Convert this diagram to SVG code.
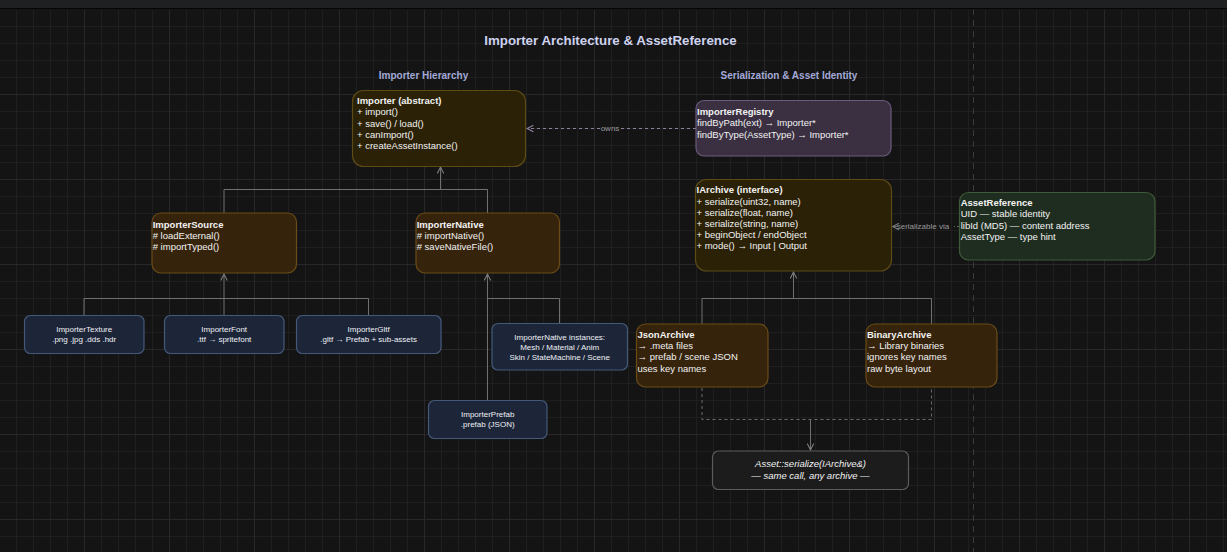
<svg xmlns="http://www.w3.org/2000/svg" width="1227" height="552" viewBox="0 0 1227 552">
<style>
.t{font-family:"Liberation Sans",Arial,sans-serif;fill:#f2f2f2;font-size:9.5px}
.b{font-weight:bold}
.s{font-family:"Liberation Sans",Arial,sans-serif;fill:#eef0f6;font-size:8px;text-anchor:middle}
.lbl{font-family:"Liberation Sans",Arial,sans-serif;fill:#9a9a9a;font-size:8px}
.olive{fill:#2a2107;stroke:#5c4b14;stroke-width:1.2}
.brown{fill:#35230c;stroke:#6b4c17;stroke-width:1.2}
.navy{fill:#1d2638;stroke:#44597a;stroke-width:1.2}
.purp{fill:#3a3042;stroke:#6c5b7a;stroke-width:1.2}
.green{fill:#1f2d20;stroke:#3f5a39;stroke-width:1.2}
.gray{fill:#1c1c1c;stroke:#5c5c5c;stroke-width:1.2}
.c{fill:none;stroke:#707070;stroke-width:1}
.d{fill:none;stroke:#6a6a6a;stroke-width:1;stroke-dasharray:3 3}
</style>
<defs>
<pattern id="minor" width="17" height="17" patternUnits="userSpaceOnUse" x="-1" y="9">
<path d="M0 0.5H17M0.5 0V17" fill="none" stroke="#1f1f1f" stroke-width="1"/>
</pattern>
<pattern id="major" width="85" height="85" patternUnits="userSpaceOnUse" x="-1" y="9">
<path d="M0 0.5H85M0.5 0V85" fill="none" stroke="#282828" stroke-width="1"/>
</pattern>
<marker id="ah" viewBox="0 0 10 10" refX="9" refY="5" markerWidth="8" markerHeight="8" orient="auto" markerUnits="userSpaceOnUse">
<path d="M1 1L9 5L1 9" fill="none" stroke="#808080" stroke-width="1.3"/>
</marker>
<marker id="ahp" viewBox="0 0 10 10" refX="9" refY="5" markerWidth="8" markerHeight="8" orient="auto" markerUnits="userSpaceOnUse">
<path d="M1 1L9 5L1 9" fill="none" stroke="#9a8aaa" stroke-width="1.3"/>
</marker>
</defs>
<rect width="1227" height="552" fill="#141414"/>
<rect y="9" width="1227" height="543" fill="url(#minor)"/>
<rect y="9" width="1227" height="543" fill="url(#major)"/>
<line x1="973.5" y1="9" x2="973.5" y2="552" stroke="#3a3a3a" stroke-dasharray="6 5"/>
<rect width="1227" height="8" fill="#1f2022"/>
<rect y="8" width="1227" height="1.5" fill="#050505"/>

<text x="610.5" y="45" text-anchor="middle" font-family="Liberation Sans,Arial,sans-serif" font-weight="bold" font-size="13.3" fill="#cdd2ee">Importer Architecture &amp; AssetReference</text>
<text x="423.5" y="79.2" text-anchor="middle" font-family="Liberation Sans,Arial,sans-serif" font-weight="bold" font-size="10" fill="#a3aad8">Importer Hierarchy</text>
<text x="789" y="79.2" text-anchor="middle" font-family="Liberation Sans,Arial,sans-serif" font-weight="bold" font-size="10" fill="#a3aad8">Serialization &amp; Asset Identity</text>

<g id="connectors">
<path class="c" d="M224 213V189.5H487.5V213M440.5 189.5V167" marker-end="url(#ah)"/>
<path class="c" d="M84 316V298.5H368.5V316M224 316V274" marker-end="url(#ah)"/>
<path class="c" d="M559.5 323V298.5H487.5"/>
<path class="c" d="M487.5 400V274" marker-end="url(#ah)"/>
<path class="c" d="M702 324V298.5H931.5V324M793.5 298.5V272" marker-end="url(#ah)"/>
<path class="d" d="M702 388V419.5H931.5V388"/>
<path class="c" d="M810.5 419.5V450" marker-end="url(#ah)"/>
<path d="M696 128.5H620M600 128.5H527" fill="none" stroke="#8e7f9e" stroke-width="1" stroke-dasharray="3 3" marker-end="url(#ahp)"/>
<text class="lbl" x="610" y="131.2" text-anchor="middle" fill="#8c8c9a">owns</text>
<path d="M959 226.5H954" fill="none" stroke="#6a6a6a" stroke-dasharray="2 2"/>
<path d="M897 226.5H892.5" fill="none" stroke="#6a6a6a" marker-end="url(#ah)"/>
<text class="lbl" x="896.7" y="229.2">serializable via</text>
</g>

<g id="importer">
<rect class="olive" x="352.5" y="90.5" width="173" height="76" rx="11"/>
<text class="t" x="357" y="104"><tspan class="b">Importer (abstract)</tspan><tspan x="357" dy="11.3">+ import()</tspan><tspan x="357" dy="11.3">+ save() / load()</tspan><tspan x="357" dy="11.3">+ canImport()</tspan><tspan x="357" dy="11.3">+ createAssetInstance()</tspan></text>
</g>

<g id="importer-registry">
<rect class="purp" x="696" y="100.5" width="195" height="55.5" rx="8"/>
<text class="t" x="697" y="115"><tspan class="b">ImporterRegistry</tspan><tspan x="697" dy="11.3">findByPath(ext) → Importer*</tspan><tspan x="697" dy="11.3">findByType(AssetType) → Importer*</tspan></text>
</g>

<g id="iarchive">
<rect class="olive" x="695.5" y="179.5" width="196" height="91.5" rx="11"/>
<text class="t" x="696.5" y="193.3"><tspan class="b">IArchive (interface)</tspan><tspan x="696.5" dy="11.2">+ serialize(uint32, name)</tspan><tspan x="696.5" dy="11.2">+ serialize(float, name)</tspan><tspan x="696.5" dy="11.2">+ serialize(string, name)</tspan><tspan x="696.5" dy="11.2">+ beginObject / endObject</tspan><tspan x="696.5" dy="11.2">+ mode() → Input | Output</tspan></text>
</g>

<g id="asset-reference">
<rect class="green" x="959.5" y="192.5" width="195.5" height="67.5" rx="9"/>
<text class="t" x="960.7" y="206"><tspan class="b">AssetReference</tspan><tspan x="960.7" dy="11.3">UID — stable identity</tspan><tspan x="960.7" dy="11.3">libId (MD5) — content address</tspan><tspan x="960.7" dy="11.3">AssetType — type hint</tspan></text>
</g>

<g id="importer-source">
<rect class="brown" x="152" y="213" width="144.5" height="60" rx="9"/>
<text class="t" x="152.7" y="227.5"><tspan class="b">ImporterSource</tspan><tspan x="152.7" dy="11.2"># loadExternal()</tspan><tspan x="152.7" dy="11.2"># importTyped()</tspan></text>
</g>

<g id="importer-native">
<rect class="brown" x="416" y="213" width="143.5" height="60" rx="9"/>
<text class="t" x="416.7" y="227.5"><tspan class="b">ImporterNative</tspan><tspan x="416.7" dy="11.2"># importNative()</tspan><tspan x="416.7" dy="11.2"># saveNativeFile()</tspan></text>
</g>

<g id="importer-texture">
<rect class="navy" x="24.5" y="315.5" width="119.5" height="38" rx="6"/>
<text class="s" x="84.2" y="332">ImporterTexture<tspan x="84.2" dy="10">.png .jpg .dds .hdr</tspan></text>
</g>

<g id="importer-font">
<rect class="navy" x="164.5" y="315.5" width="119.5" height="38" rx="6"/>
<text class="s" x="224.2" y="332">ImporterFont<tspan x="224.2" dy="10">.ttf → spritefont</tspan></text>
</g>

<g id="importer-gltf">
<rect class="navy" x="296.5" y="315.5" width="144.5" height="38" rx="6"/>
<text class="s" x="368.7" y="332">ImporterGltf<tspan x="368.7" dy="10">.gltf → Prefab + sub-assets</tspan></text>
</g>

<g id="native-instances">
<rect class="navy" x="492" y="323.5" width="135.5" height="46.5" rx="6"/>
<text class="s" x="559.7" y="340">ImporterNative instances:<tspan x="559.7" dy="10">Mesh / Material / Anim</tspan><tspan x="559.7" dy="10">Skin / StateMachine / Scene</tspan></text>
</g>

<g id="importer-prefab">
<rect class="navy" x="428.5" y="400.5" width="118.5" height="38" rx="6"/>
<text class="s" x="487.7" y="417">ImporterPrefab<tspan x="487.7" dy="10">.prefab (JSON)</tspan></text>
</g>

<g id="json-archive">
<rect class="brown" x="636.5" y="324" width="131.5" height="63" rx="9"/>
<text class="t" x="637.5" y="337.6"><tspan class="b">JsonArchive</tspan><tspan x="637.5" dy="11.4">→ .meta files</tspan><tspan x="637.5" dy="11.4">→ prefab / scene JSON</tspan><tspan x="637.5" dy="11.4">uses key names</tspan></text>
</g>

<g id="binary-archive">
<rect class="brown" x="866" y="324" width="131" height="63" rx="9"/>
<text class="t" x="867" y="337.6"><tspan class="b">BinaryArchive</tspan><tspan x="867" dy="11.4">→ Library binaries</tspan><tspan x="867" dy="11.4">ignores key names</tspan><tspan x="867" dy="11.4">raw byte layout</tspan></text>
</g>

<g id="asset-serialize">
<rect class="gray" x="712.5" y="451" width="196" height="38.5" rx="6"/>
<text class="t" x="810.5" y="466.6" text-anchor="middle" font-style="italic" font-size="9.3">Asset::serialize(IArchive&amp;)<tspan x="810.5" dy="12.7">— same call, any archive —</tspan></text>
</g>
</svg>
